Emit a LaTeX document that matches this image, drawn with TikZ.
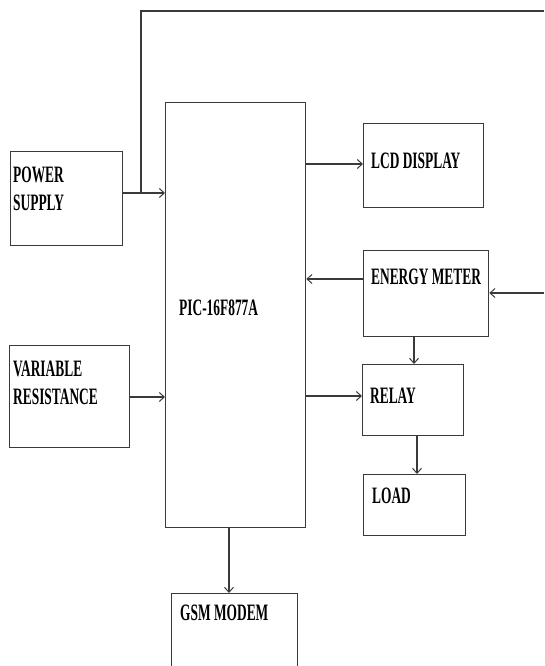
\documentclass[tikz,border=0pt]{standalone}
\usepackage{fontspec}
\usetikzlibrary{arrows.meta}
\newfontfamily\labfont[FakeStretch=0.57]{Liberation Serif}
\definecolor{ln}{HTML}{3A3A3A}
\begin{document}
\begin{tikzpicture}[x=1pt,y=-1pt,
  box/.style={draw=ln,line width=1.3pt,rectangle,inner sep=0pt,anchor=north west},
  lab/.style={anchor=base west,inner sep=0pt,font=\labfont\bfseries\fontsize{23.5}{28}\selectfont,align=left},
  arr/.style={draw=ln,line width=1.3pt,-{Straight Barb[length=5pt,width=9pt,line width=1pt]}},
  wire/.style={draw=ln,line width=1.3pt}]
\useasboundingbox (0,0) rectangle (544,666);
% boxes
\node[box,minimum width=112pt,minimum height=94pt] (ps) at (10,151) {};
\node[box,minimum width=140pt,minimum height=425pt] (pic) at (165,102) {};
\node[box,minimum width=120pt,minimum height=84pt] (lcd) at (363,123) {};
\node[box,minimum width=125pt,minimum height=86pt] (em) at (363,250) {};
\node[box,minimum width=101pt,minimum height=71pt] (relay) at (362,364) {};
\node[box,minimum width=120pt,minimum height=102pt] (vr) at (9,345) {};
\node[box,minimum width=102pt,minimum height=61pt] (load) at (363,474) {};
\node[box,minimum width=126pt,minimum height=80pt] (gsm) at (171,593) {};
% labels
\node[lab] (psT) at (13,182) {POWER};
\node[lab] (psT2) at (13,210) {SUPPLY};
\node[lab] (lcdT) at (371,168) {LCD DISPLAY};
\node[lab] (emT) at (371,284) {ENERGY METER};
\node[lab] (picT) at (179,315) {PIC-16F877A};
\node[lab] (vrT) at (13,376) {VARIABLE};
\node[lab] (vrT2) at (13,404) {RESISTANCE};
\node[lab] (relayT) at (370,403) {RELAY};
\node[lab] (loadT) at (372,503) {LOAD};
\node[lab] (gsmT) at (180,620) {GSM MODEM};
% helper coordinates
\coordinate (y193) at (0,193);
\coordinate (y164) at (0,164);
\coordinate (y279) at (0,279);
\coordinate (y396) at (0,396);
\coordinate (y397) at (0,397);
\coordinate (j) at (141,193);
\coordinate (topR) at (544,11);
\coordinate (inR) at (544,293);
\coordinate (x414) at (414,0);
\coordinate (x417) at (417,0);
\coordinate (x229) at (229,0);
% connectors
\draw[arr] (ps.east |- y193) -- (pic.west |- y193);
\draw[wire] (j) |- (topR);
\draw[arr] (pic.east |- y164) -- (lcd.west |- y164);
\draw[arr] (em.west |- y279) -- (pic.east |- y279);
\draw[arr] (inR) -- (em.east |- inR);
\draw[arr] (em.south -| x414) -- (relay.north -| x414);
\draw[arr] (pic.east |- y396) -- (relay.west |- y396);
\draw[arr] (vr.east |- y397) -- (pic.west |- y397);
\draw[arr] (relay.south -| x417) -- (load.north -| x417);
\draw[arr] (pic.south -| x229) -- (gsm.north -| x229);
\end{tikzpicture}
\end{document}
